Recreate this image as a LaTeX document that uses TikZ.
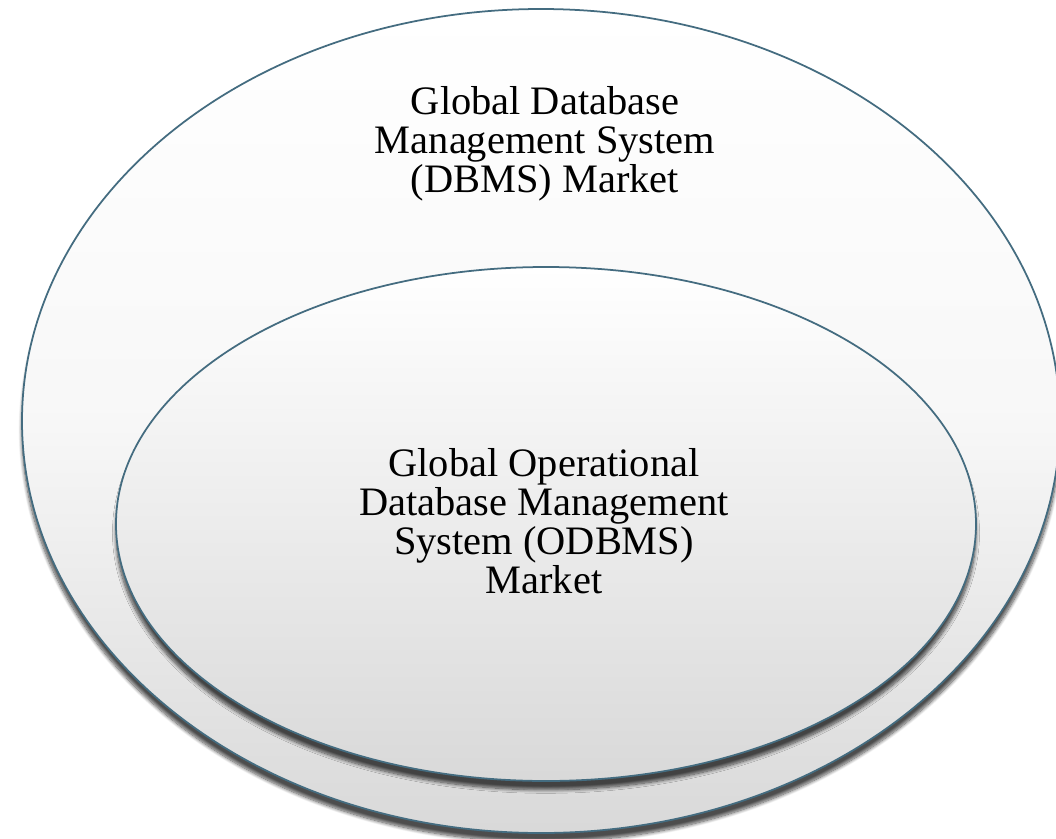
\documentclass[tikz,border=0pt]{standalone}
\usepackage{fontspec}
\setmainfont{Liberation Serif}
\usetikzlibrary{shadows.blur}

\definecolor{rimblue}{RGB}{68,108,128}

\tikzset{
  disc/.style={draw=rimblue,line width=1pt,top color=white,bottom color=gray!30,
    blur shadow={shadow xshift=0pt,shadow yshift=-5pt,shadow blur radius=2pt,shadow blur steps=10,shadow opacity=70}},
  label/.style={align=center,text=black,font=\fontsize{23}{22.2}\selectfont}
}

\begin{document}
\begin{tikzpicture}[x=0.02cm,y=-0.02cm]

\useasboundingbox (0,0) rectangle (1056,839);

% outer market
\path[disc,middle color=gray!6] (541,421) ellipse[x radius=519,y radius=412];

% inner market
\path[disc] (546,524) ellipse[x radius=430,y radius=257];

\node[label] (dbms) at (545,144)
  {Global Database\\Management System\\(DBMS) Market};

\node[label] (odbms) at (544,521)
  {Global Operational\\Database Management\\System (ODBMS)\\Market};

\end{tikzpicture}
\end{document}
